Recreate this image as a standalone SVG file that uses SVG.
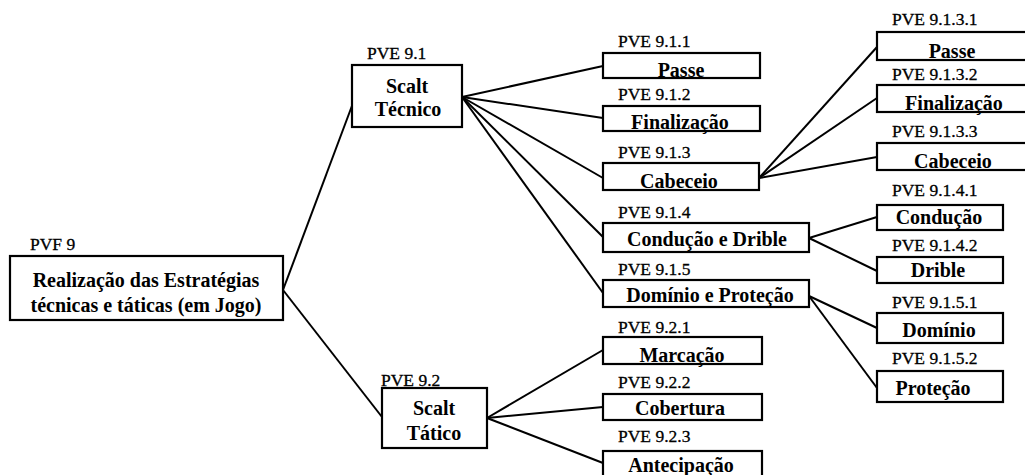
<svg xmlns="http://www.w3.org/2000/svg" width="1025" height="475" viewBox="0 0 1025 475">
  <style>
    .box { fill: #fff; stroke: #000; stroke-width: 2.2; }
    .lbl { font-family: "Liberation Serif", "Times New Roman", serif; font-size: 17.5px; font-weight: 400; fill: #000; stroke: #000; stroke-width: 0.3; }
    .txt { font-family: "Liberation Serif", "Times New Roman", serif; font-size: 20px; font-weight: bold; fill: #000; text-anchor: middle; }
    .conn line { stroke: #000; stroke-width: 2; }
  </style>
  <rect width="1025" height="475" fill="#fff"/>

  <!-- connectors -->
  <g id="connectors" class="conn">
    <line x1="283" y1="290" x2="353" y2="103"/>
    <line x1="283" y1="290" x2="382" y2="417"/>
    <line x1="462" y1="97" x2="603" y2="66"/>
    <line x1="462" y1="97" x2="603" y2="118"/>
    <line x1="462" y1="97" x2="603" y2="178"/>
    <line x1="462" y1="97" x2="603" y2="237"/>
    <line x1="462" y1="97" x2="603" y2="293"/>
    <line x1="487" y1="418" x2="603" y2="350"/>
    <line x1="487" y1="418" x2="603" y2="407"/>
    <line x1="487" y1="418" x2="603" y2="463"/>
    <line x1="759" y1="178" x2="877" y2="47"/>
    <line x1="759" y1="178" x2="877" y2="98"/>
    <line x1="759" y1="178" x2="877" y2="157"/>
    <line x1="809" y1="238" x2="877" y2="217"/>
    <line x1="809" y1="238" x2="877" y2="271"/>
    <line x1="809" y1="296" x2="877" y2="328"/>
    <line x1="809" y1="296" x2="877" y2="388"/>
  </g>

  <!-- root -->
  <g id="pvf9">
    <text class="lbl" x="30" y="250">PVF 9</text>
    <rect class="box" x="10" y="256" width="273" height="64"/>
    <text class="txt" x="146" y="287">Realização das Estratégias</text>
    <text class="txt" x="146" y="312">técnicas e táticas (em Jogo)</text>
  </g>

  <!-- second level -->
  <g id="pve9-1">
    <text class="lbl" x="367" y="59">PVE 9.1</text>
    <rect class="box" x="352" y="65" width="110" height="62"/>
    <text class="txt" x="407" y="93">Scalt</text>
    <text class="txt" x="408" y="116">Técnico</text>
  </g>
  <g id="pve9-2">
    <text class="lbl" x="381" y="386">PVE 9.2</text>
    <rect class="box" x="382" y="388" width="105" height="60"/>
    <text class="txt" x="434" y="415">Scalt</text>
    <text class="txt" x="434" y="440">Tático</text>
  </g>

  <!-- third level -->
  <g id="pve9-1-1">
    <text class="lbl" x="618" y="47">PVE 9.1.1</text>
    <rect class="box" x="603" y="53" width="157" height="25"/>
    <text class="txt" x="681" y="77">Passe</text>
  </g>
  <g id="pve9-1-2">
    <text class="lbl" x="618" y="100">PVE 9.1.2</text>
    <rect class="box" x="603" y="106" width="157" height="25"/>
    <text class="txt" x="680" y="129">Finalização</text>
  </g>
  <g id="pve9-1-3">
    <text class="lbl" x="618" y="158">PVE 9.1.3</text>
    <rect class="box" x="603" y="163" width="156" height="27"/>
    <text class="txt" x="679" y="188">Cabeceio</text>
  </g>
  <g id="pve9-1-4">
    <text class="lbl" x="618" y="218">PVE 9.1.4</text>
    <rect class="box" x="603" y="223" width="206" height="29"/>
    <text class="txt" x="707" y="246">Condução e Drible</text>
  </g>
  <g id="pve9-1-5">
    <text class="lbl" x="618" y="275">PVE 9.1.5</text>
    <rect class="box" x="603" y="280" width="206" height="27"/>
    <text class="txt" x="710" y="302">Domínio e Proteção</text>
  </g>
  <g id="pve9-2-1">
    <text class="lbl" x="618" y="333">PVE 9.2.1</text>
    <rect class="box" x="603" y="337" width="159" height="27"/>
    <text class="txt" x="682" y="362">Marcação</text>
  </g>
  <g id="pve9-2-2">
    <text class="lbl" x="618" y="388">PVE 9.2.2</text>
    <rect class="box" x="603" y="394" width="159" height="26"/>
    <text class="txt" x="680" y="415">Cobertura</text>
  </g>
  <g id="pve9-2-3">
    <text class="lbl" x="618" y="442">PVE 9.2.3</text>
    <rect class="box" x="603" y="451" width="159" height="32"/>
    <text class="txt" x="681" y="472">Antecipação</text>
  </g>

  <!-- fourth level -->
  <g id="pve9-1-3-1">
    <text class="lbl" x="892" y="25">PVE 9.1.3.1</text>
    <rect class="box" x="877" y="32" width="160" height="28"/>
    <text class="txt" x="952" y="58">Passe</text>
  </g>
  <g id="pve9-1-3-2">
    <text class="lbl" x="892" y="80">PVE 9.1.3.2</text>
    <rect class="box" x="877" y="85" width="160" height="27"/>
    <text class="txt" x="954" y="110">Finalização</text>
  </g>
  <g id="pve9-1-3-3">
    <text class="lbl" x="892" y="137">PVE 9.1.3.3</text>
    <rect class="box" x="877" y="143" width="160" height="27"/>
    <text class="txt" x="953" y="168">Cabeceio</text>
  </g>
  <g id="pve9-1-4-1">
    <text class="lbl" x="892" y="196">PVE 9.1.4.1</text>
    <rect class="box" x="877" y="205" width="126" height="25"/>
    <text class="txt" x="939" y="224">Condução</text>
  </g>
  <g id="pve9-1-4-2">
    <text class="lbl" x="892" y="251">PVE 9.1.4.2</text>
    <rect class="box" x="877" y="257" width="126" height="26"/>
    <text class="txt" x="938" y="277">Drible</text>
  </g>
  <g id="pve9-1-5-1">
    <text class="lbl" x="892" y="308">PVE 9.1.5.1</text>
    <rect class="box" x="877" y="313" width="126" height="30"/>
    <text class="txt" x="939" y="337">Domínio</text>
  </g>
  <g id="pve9-1-5-2">
    <text class="lbl" x="892" y="364">PVE 9.1.5.2</text>
    <rect class="box" x="877" y="371" width="126" height="31"/>
    <text class="txt" x="933" y="395">Proteção</text>
  </g>
</svg>
